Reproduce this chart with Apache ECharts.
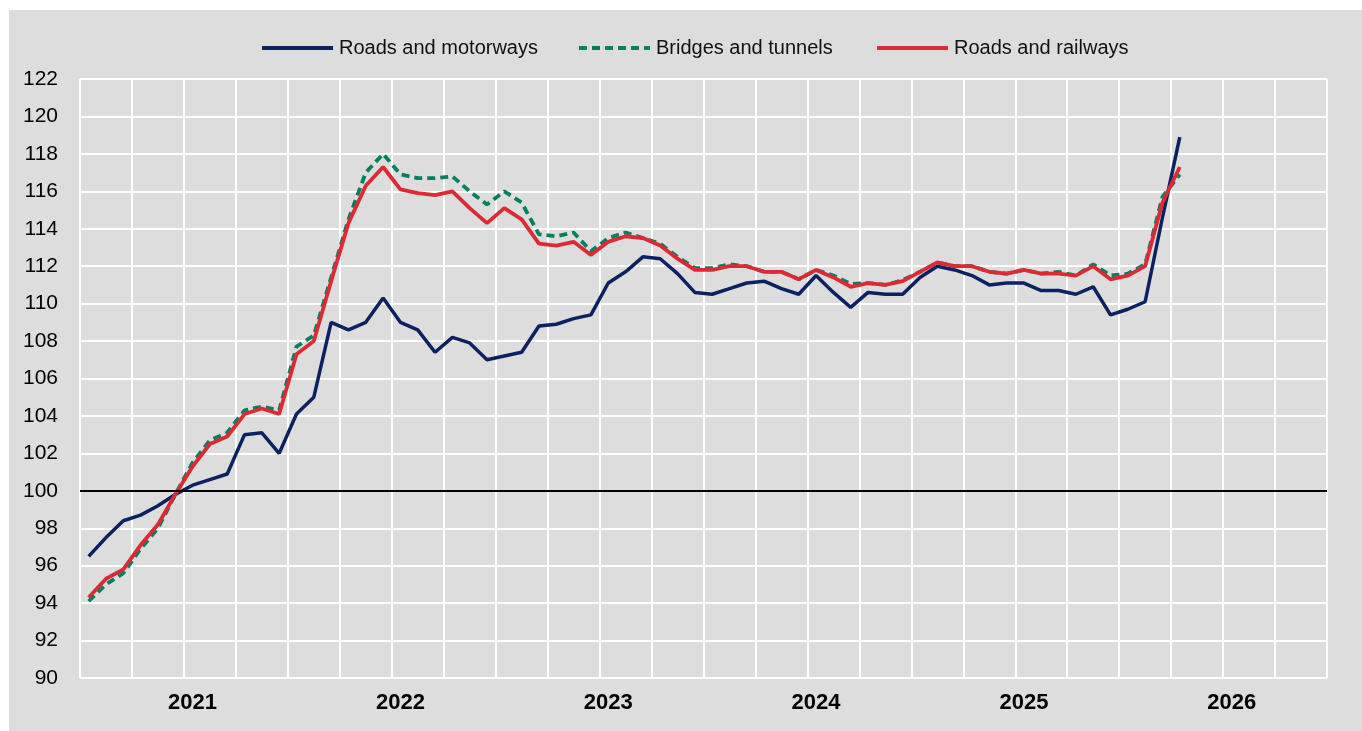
<!DOCTYPE html>
<html lang="en">
<head>
    <meta charset="UTF-8">
    <script src="https://cdn.jsdelivr.net/npm/echarts@6/dist/echarts.min.js"></script>
    <title>Construction cost indices</title>
    <style>
        body { margin: 0; background: #ffffff; }
        #main {
            position: absolute;
            left: 9px;
            top: 10px;
            width: 1353px;
            height: 721px;
        }
    </style>
</head>
<body>
    <div id="main"></div>
    <script>
        // monthly index, Jul 2020 .. Oct 2025 (axis runs to Jun 2026)
        var years = [2020, 2021, 2022, 2023, 2024, 2025, 2026];
        var monthNames = ['Jan', 'Feb', 'Mar', 'Apr', 'May', 'Jun', 'Jul', 'Aug', 'Sep', 'Oct', 'Nov', 'Dec'];
        var yTicks = [90, 122, 2]; // min, max, step
        var seriesNames = ['Roads and motorways', 'Bridges and tunnels', 'Roads and railways'];

        var roadsMotorways = [96.5, 97.5, 98.4, 98.7, 99.2, 99.8, 100.3, 100.6, 100.9, 103.0,
            103.1, 102.0, 104.1, 105.0, 109.0, 108.6, 109.0, 110.3, 109.0, 108.6,
            107.4, 108.2, 107.9, 107.0, 107.2, 107.4, 108.8, 108.9, 109.2, 109.4,
            111.1, 111.7, 112.5, 112.4, 111.6, 110.6, 110.5, 110.8, 111.1, 111.2,
            110.8, 110.5, 111.5, 110.6, 109.8, 110.6, 110.5, 110.5, 111.4, 112.0,
            111.8, 111.5, 111.0, 111.1, 111.1, 110.7, 110.7, 110.5, 110.9, 109.4,
            109.7, 110.1, 114.6, 118.9];
        var bridgesTunnels = [94.1, 95.0, 95.6, 96.9, 98.0, 99.8, 101.5, 102.7, 103.1, 104.3,
            104.5, 104.3, 107.7, 108.3, 111.4, 114.5, 117.0, 118.0, 116.9, 116.7,
            116.7, 116.8, 116.0, 115.3, 116.0, 115.4, 113.7, 113.6, 113.8, 112.8,
            113.5, 113.8, 113.5, 113.2, 112.5, 111.9, 111.9, 112.1, 112.0, 111.7,
            111.7, 111.3, 111.8, 111.5, 111.05, 111.1, 111.0, 111.25, 111.7, 112.2,
            112.0, 112.0, 111.7, 111.6, 111.8, 111.6, 111.7, 111.5, 112.1, 111.5,
            111.6, 112.1, 115.7, 116.9];
        var roadsRailways = [94.3, 95.3, 95.8, 97.1, 98.2, 99.8, 101.3, 102.5, 102.9, 104.1,
            104.4, 104.1, 107.3, 108.0, 111.2, 114.3, 116.3, 117.3, 116.1, 115.9,
            115.8, 116.0, 115.1, 114.3, 115.1, 114.5, 113.2, 113.1, 113.3, 112.6,
            113.3, 113.6, 113.5, 113.1, 112.4, 111.8, 111.8, 112.0, 112.0, 111.7,
            111.7, 111.3, 111.8, 111.4, 110.9, 111.1, 111.0, 111.2, 111.7, 112.2,
            112.0, 112.0, 111.7, 111.6, 111.8, 111.6, 111.6, 111.5, 112.0, 111.3,
            111.5, 112.0, 115.4, 117.3];

        var categories = [];
        years.forEach(function (y) {
            monthNames.forEach(function (m, i) {
                if (y === 2020 && i < 6) return;
                if (y === 2026 && i > 5) return;
                categories.push(m + ' ' + y);
            });
        });

        var font = "'Liberation Sans', Arial, sans-serif";
        var colors = ['#0c2162', '#00805e', '#dc2a35'];
        var chart = echarts.init(document.getElementById('main'));

        // one legend per entry so each can sit where it does in the original
        var legendLeft = [246, 563, 861];
        var legends = seriesNames.map(function (name, i) {
            return {
                left: legendLeft[i],
                top: 23,
                itemWidth: 71,
                itemHeight: 14,
                itemStyle: { opacity: 0 },
                lineStyle: { width: 4 },
                textStyle: { fontSize: 20, color: '#111', fontFamily: font, padding: [0, 0, 0, 1] },
                data: [name]
            };
        });

        var option = {
            backgroundColor: '#dddddd',
            animation: false,
            textStyle: { fontFamily: font },
            legend: legends,
            grid: { left: 71, top: 69, right: 35, bottom: 53 },
            xAxis: {
                type: 'category',
                data: categories,
                boundaryGap: true,
                axisLine: { show: false },
                axisTick: { show: false, interval: 2 },
                axisLabel: {
                    interval: function (index, value) { return value.indexOf('Jan') === 0; },
                    formatter: function (value) { return value.slice(4); },
                    fontSize: 22,
                    fontWeight: 'bold',
                    color: '#000',
                    margin: 14,
                    fontFamily: font
                },
                splitLine: { show: true, interval: 2, lineStyle: { color: '#ffffff', width: 2 } }
            },
            yAxis: {
                type: 'value',
                min: yTicks[0],
                max: yTicks[1],
                interval: yTicks[2],
                axisLine: { show: false },
                axisTick: { show: false },
                axisLabel: { fontSize: 21, color: '#000', margin: 22, fontFamily: font },
                splitLine: { lineStyle: { color: '#ffffff', width: 2 } }
            },
            series: [
                {
                    name: seriesNames[0],
                    type: 'line',
                    data: roadsMotorways,
                    symbol: 'none',
                    lineStyle: { color: colors[0], width: 3.5 },
                    itemStyle: { color: colors[0] },
                    markLine: {
                        silent: true,
                        symbol: 'none',
                        label: { show: false },
                        lineStyle: { color: '#000000', width: 1.8, type: 'solid' },
                        data: [{ yAxis: 100 }]
                    }
                },
                {
                    name: seriesNames[1],
                    type: 'line',
                    data: bridgesTunnels,
                    symbol: 'none',
                    lineStyle: { color: colors[1], width: 3.8, type: [8, 5] },
                    itemStyle: { color: colors[1] }
                },
                {
                    name: seriesNames[2],
                    type: 'line',
                    data: roadsRailways,
                    symbol: 'none',
                    lineStyle: { color: colors[2], width: 3.8 },
                    itemStyle: { color: colors[2] }
                }
            ]
        };

        chart.setOption(option);
    </script>
</body>
</html>
